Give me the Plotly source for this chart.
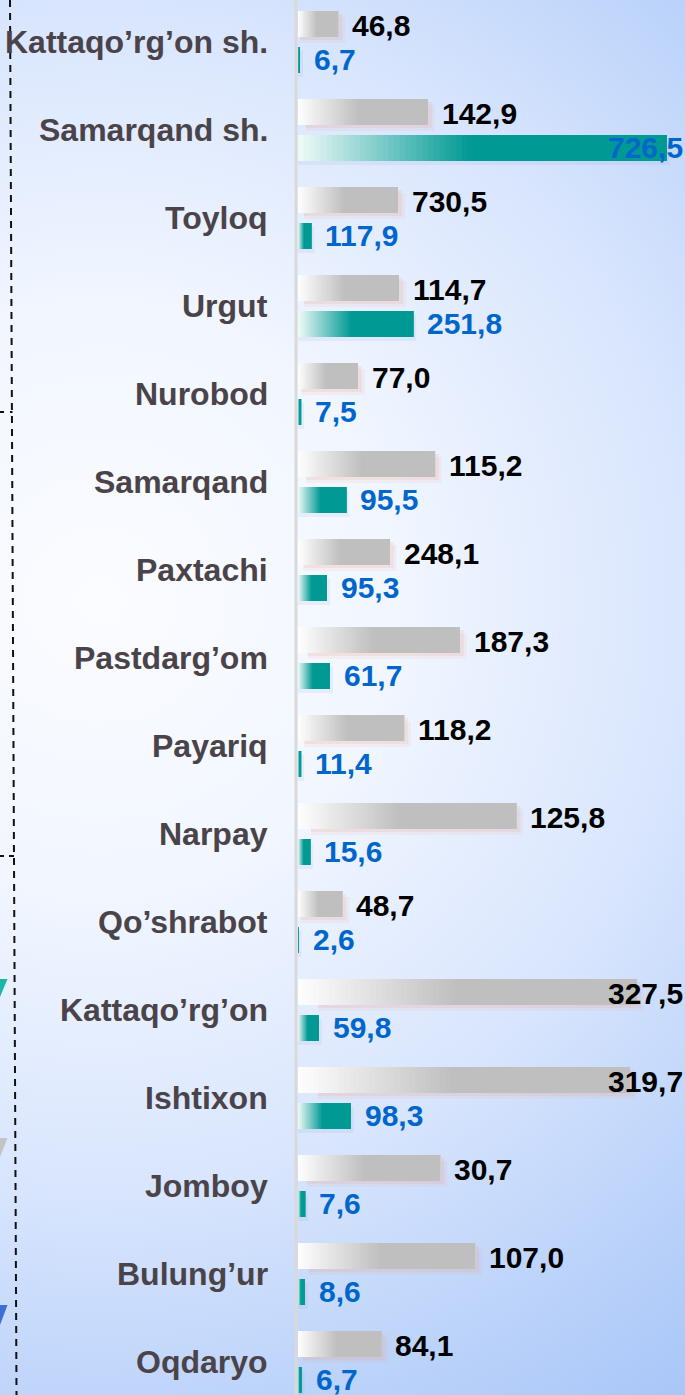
import base64
import plotly.graph_objects as go

# ---------------- data ----------------
categories = ["Kattaqo’rg’on sh.", "Samarqand sh.", "Toyloq", "Urgut", "Nurobod",
              "Samarqand", "Paxtachi", "Pastdarg’om", "Payariq", "Narpay",
              "Qo’shrabot", "Kattaqo’rg’on", "Ishtixon", "Jomboy", "Bulung’ur", "Oqdaryo"]

# bar lengths as drawn in the picture (chart units)
gray_bar = [79, 256, 197, 199, 118, 270, 181, 319, 209, 430, 87, 668, 654, 280, 349, 164]
teal_bar = [4, 726.5, 26, 227, 6, 95, 57, 63, 6, 24, 1, 41, 104, 14, 13, 7]

# value labels as printed
gray_labels = ["46,8", "142,9", "730,5", "114,7", "77,0", "115,2", "248,1", "187,3",
               "118,2", "125,8", "48,7", "327,5", "319,7", "30,7", "107,0", "84,1"]
teal_labels = ["6,7", "726,5", "117,9", "251,8", "7,5", "95,5", "95,3", "61,7",
               "11,4", "15,6", "2,6", "59,8", "98,3", "7,6", "8,6", "6,7"]

# ---------------- layout constants ----------------
W, H = 685, 1395
AX_X = 298                      # pixel where bars start
PLOT_W = W - AX_X
XMAX = 762.6
PX = XMAX / PLOT_W              # chart units per pixel
ROW = 88.0
C0 = 42.0
y_top = -C0 / ROW
y_bot = (H - C0) / ROW

FONT = "Liberation Sans, Arial, sans-serif"


def lerp(c1, c2, t):
    return "rgb(%d,%d,%d)" % tuple(round(a + (b - a) * t) for a, b in zip(c1, c2))


fig = go.Figure()

gray_off, bar_w = -31 / ROW, 26 / ROW
teal_off = 5 / ROW

# shadows (glow) under gray bars
for dx, dy, col in [(7, 6, "rgba(235,160,140,0.11)"), (4, 3, "rgba(235,160,140,0.17)")]:
    fig.add_trace(go.Bar(
        y=categories, x=[v - v * 0.06 + dx * PX for v in gray_bar], base=[v * 0.06 for v in gray_bar],
        orientation="h", offset=gray_off + dy / ROW, width=bar_w,
        marker=dict(color=col, line=dict(width=0)), hoverinfo="skip", showlegend=False))
# faint shadow under teal bars
fig.add_trace(go.Bar(
    y=categories, x=[v + 3 * PX for v in teal_bar], base=[0] * len(teal_bar),
    orientation="h", offset=teal_off + 4 / ROW, width=bar_w,
    marker=dict(color="rgba(120,150,200,0.10)", line=dict(width=0)), hoverinfo="skip", showlegend=False))

# gradient bars built as overlapping segments
N = 30
GF = 0.46
g0, g1 = (253, 253, 253), (191, 191, 191)
t0, t1 = (236, 249, 247), (0, 153, 148)
for k in range(N + 1):
    f = GF * k / N
    t = k / N
    fig.add_trace(go.Bar(
        y=categories, x=[v * (1 - f) for v in gray_bar], base=[v * f for v in gray_bar],
        orientation="h", offset=gray_off, width=bar_w,
        marker=dict(color=lerp(g0, g1, t), line=dict(width=0)), hoverinfo="skip", showlegend=False))
    fig.add_trace(go.Bar(
        y=categories, x=[v * (1 - f) for v in teal_bar], base=[v * f for v in teal_bar],
        orientation="h", offset=teal_off, width=bar_w,
        marker=dict(color=lerp(t0, t1, t), line=dict(width=0)), hoverinfo="skip", showlegend=False))

annotations = []
VAL_SIZE = 30
CAT_SIZE = 32


def text_w(s, size):
    return sum(0.278 if ch in ",." else 0.556 for ch in s) * size


for cat, gv, gl, tv, tl in zip(categories, gray_bar, gray_labels, teal_bar, teal_labels):
    for v, lab, ys, col in [(gv, gl, 17, "#000000"), (tv, tl, -17, "#0066CC")]:
        end_px = v / PX
        if end_px + 14 + text_w(lab, VAL_SIZE) > PLOT_W:
            annotations.append(dict(x=1, xref="paper", xanchor="right", xshift=0,
                                    y=cat, yref="y", yshift=ys, text=lab, showarrow=False,
                                    font=dict(family=FONT, size=VAL_SIZE, color=col, weight="bold")))
        else:
            annotations.append(dict(x=v, xref="x", xanchor="left", xshift=12,
                                    y=cat, yref="y", yshift=ys, text=lab, showarrow=False,
                                    font=dict(family=FONT, size=VAL_SIZE, color=col, weight="bold")))
    annotations.append(dict(x=(AX_X - 28) / W, xref="paper", xanchor="right",
                            y=cat, yref="y", yshift=0, text=cat, showarrow=False,
                            font=dict(family=FONT, size=CAT_SIZE, color="#4A4349", weight="bold")))


def px(x):
    return x / W


def py(y):
    return 1 - y / H


shapes = [
    # axis line
    dict(type="line", xref="paper", yref="paper", x0=px(296), x1=px(296), y0=0, y1=1,
         line=dict(color="#D9D9D9", width=3)),
    # dashed decorative lines on the left
    dict(type="line", xref="paper", yref="paper", x0=px(10), x1=px(16.5), y0=py(0), y1=py(H),
         line=dict(color="#111111", width=2, dash="7px,6px")),
    dict(type="line", xref="paper", yref="paper", x0=px(-3), x1=px(12.5), y0=py(412), y1=py(412),
         line=dict(color="#111111", width=2, dash="7px,6px")),
    dict(type="line", xref="paper", yref="paper", x0=px(-4), x1=px(14), y0=py(856), y1=py(856),
         line=dict(color="#111111", width=2, dash="8px,5px")),
    # cut-off legend marks
    dict(type="path", xref="paper", yref="paper",
         path=f"M 0 {py(979)} L {px(7.5)} {py(979)} L 0 {py(997)} Z",
         fillcolor="#1DB5A8", line=dict(width=0)),
    dict(type="path", xref="paper", yref="paper",
         path=f"M 0 {py(1138)} L {px(7.5)} {py(1138)} L 0 {py(1157)} Z",
         fillcolor="#C4C4C4", line=dict(width=0)),
    dict(type="path", xref="paper", yref="paper",
         path=f"M 0 {py(1305)} L {px(7.5)} {py(1305)} L 0 {py(1325)} Z",
         fillcolor="#3A6FD8", line=dict(width=0)),
]

svg = (f'<svg xmlns="http://www.w3.org/2000/svg" width="{W}" height="{H}">'
       '<defs><radialGradient id="g" gradientUnits="userSpaceOnUse" cx="100" cy="600" r="990">'
       '<stop offset="0" stop-color="#FBFCFF"/><stop offset="0.3" stop-color="#F1F6FF"/>'
       '<stop offset="0.6" stop-color="#D8E5FD"/><stop offset="0.8" stop-color="#BFD5FA"/>'
       '<stop offset="1" stop-color="#A8C6F8"/></radialGradient></defs>'
       f'<rect width="{W}" height="{H}" fill="url(#g)"/></svg>')
bg_src = "data:image/svg+xml;base64," + base64.b64encode(svg.encode()).decode()

fig.update_layout(
    width=W, height=H,
    margin=dict(l=0, r=0, t=0, b=0, pad=0),
    barmode="overlay",
    paper_bgcolor="#FFFFFF",
    plot_bgcolor="rgba(0,0,0,0)",
    showlegend=False,
    xaxis=dict(domain=[AX_X / W, 1], range=[0, XMAX], visible=False, fixedrange=True),
    yaxis=dict(type="category", categoryorder="array", categoryarray=categories,
               range=[y_bot, y_top], visible=False, fixedrange=True),
    annotations=annotations,
    shapes=shapes,
    images=[dict(source=bg_src, xref="paper", yref="paper", x=0, y=1, sizex=1, sizey=1,
                 xanchor="left", yanchor="top", sizing="stretch", layer="below")],
)

fig.write_html("out.html", config={"displayModeBar": False, "staticPlot": True},
               post_script="document.body.style.margin='0';document.body.style.overflow='hidden';")
